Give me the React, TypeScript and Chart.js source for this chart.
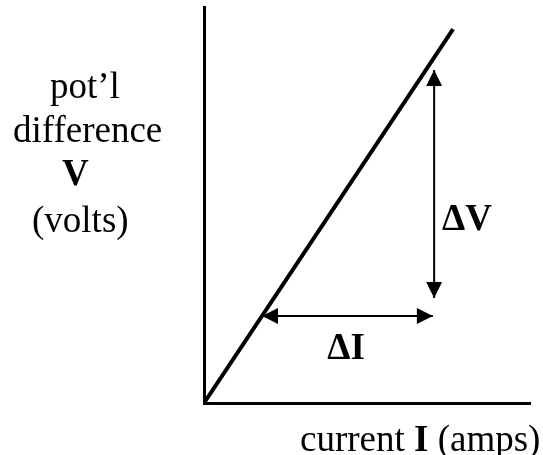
import React, { useEffect, useRef } from "react";
import { Chart, registerables } from "chart.js";

Chart.register(...registerables);

// ---- data ----
const slopeLine = [
  { x: 0, y: 0 },
  { x: 7.64, y: 9.44 },
];
const deltaVArrow = [
  { x: 7.06, y: 8.41 },
  { x: 7.06, y: 2.65 },
];
const deltaIArrow = [
  { x: 1.78, y: 2.2 },
  { x: 7.02, y: 2.2 },
];
const deltaLabels = [
  { text: "ΔV", x: 8.07, y: 4.62 },
  { text: "ΔI", x: 4.36, y: 1.34 },
];
const yTitleLines = [
  [{ text: "pot’l", bold: false }],
  [{ text: "difference", bold: false }],
  [{ text: "V", bold: true }],
  [{ text: "(volts)", bold: false }],
];
const xTitle = [
  { text: "current ", bold: false },
  { text: "I", bold: true },
  { text: " (amps)", bold: false },
];

const FONT = "'Liberation Serif', 'Times New Roman', serif";
const FS = 37;

const arrowPlugin = {
  id: "arrowHeads",
  afterDatasetsDraw(chart: any) {
    const ctx = chart.ctx;
    chart.data.datasets.forEach((ds: any, i: number) => {
      if (!ds.arrowBoth) return;
      const meta = chart.getDatasetMeta(i);
      const pts = meta.data;
      if (pts.length < 2) return;
      const a = pts[0];
      const b = pts[pts.length - 1];
      const drawHead = (tip: any, from: any) => {
        const ang = Math.atan2(tip.y - from.y, tip.x - from.x);
        const len = 16;
        const half = 8;
        ctx.save();
        ctx.translate(tip.x, tip.y);
        ctx.rotate(ang);
        ctx.beginPath();
        ctx.moveTo(0, 0);
        ctx.lineTo(-len, -half);
        ctx.lineTo(-len, half);
        ctx.closePath();
        ctx.fillStyle = "#000";
        ctx.fill();
        ctx.restore();
      };
      drawHead(a, b);
      drawHead(b, a);
    });
  },
};

const drawSegments = (ctx: any, segs: any[], x: number, y: number) => {
  let cx = x;
  segs.forEach((s) => {
    ctx.font = `${s.bold ? "bold " : ""}${FS}px ${FONT}`;
    ctx.fillText(s.text, cx, y);
    cx += ctx.measureText(s.text).width;
  });
};

const textPlugin = {
  id: "textLabels",
  afterDraw(chart: any) {
    const ctx = chart.ctx;
    const xs = chart.scales.x;
    const ys = chart.scales.y;
    ctx.save();
    ctx.fillStyle = "#000";
    ctx.textBaseline = "middle";
    ctx.textAlign = "center";
    ctx.font = `bold ${FS}px ${FONT}`;
    deltaLabels.forEach((l) => {
      ctx.fillText(l.text, xs.getPixelForValue(l.x), ys.getPixelForValue(l.y));
    });
    ctx.textBaseline = "alphabetic";
    ctx.textAlign = "left";
    const leftPos = [
      [50, 98],
      [13, 142],
      [62, 185],
      [32, 232],
    ];
    yTitleLines.forEach((line, i) => {
      drawSegments(ctx, line, leftPos[i][0], leftPos[i][1]);
    });
    drawSegments(ctx, xTitle, 300, 451);
    ctx.restore();
  },
};

export default function App() {
  const ref = useRef<HTMLCanvasElement | null>(null);
  useEffect(() => {
    if (!ref.current) return;
    const chart = new Chart(ref.current, {
      type: "scatter",
      data: {
        datasets: [
          {
            data: slopeLine,
            showLine: true,
            borderColor: "#000",
            borderWidth: 4,
            pointRadius: 0,
          },
          {
            data: deltaVArrow,
            showLine: true,
            borderColor: "#000",
            borderWidth: 2,
            pointRadius: 0,
            arrowBoth: true,
          } as any,
          {
            data: deltaIArrow,
            showLine: true,
            borderColor: "#000",
            borderWidth: 2,
            pointRadius: 0,
            arrowBoth: true,
          } as any,
        ],
      },
      options: {
        animation: false,
        responsive: true,
        maintainAspectRatio: false,
        layout: { padding: { left: 196, right: 13, top: 7, bottom: 44 } },
        plugins: {
          legend: { display: false },
          tooltip: { enabled: false },
        },
        events: [],
        scales: {
          x: {
            type: "linear",
            min: 0,
            max: 10,
            grid: { display: false },
            ticks: { display: false },
            border: { display: true, color: "#000", width: 3 },
          },
          y: {
            type: "linear",
            min: 0,
            max: 10,
            grid: { display: false },
            ticks: { display: false },
            border: { display: true, color: "#000", width: 3 },
          },
        },
      },
      plugins: [arrowPlugin, textPlugin],
    });
    return () => chart.destroy();
  }, []);
  return (
    <div
      style={{
        position: "fixed",
        left: 0,
        top: 0,
        width: 543,
        height: 455,
        background: "#fff",
      }}
    >
      <canvas ref={ref} />
    </div>
  );
}
